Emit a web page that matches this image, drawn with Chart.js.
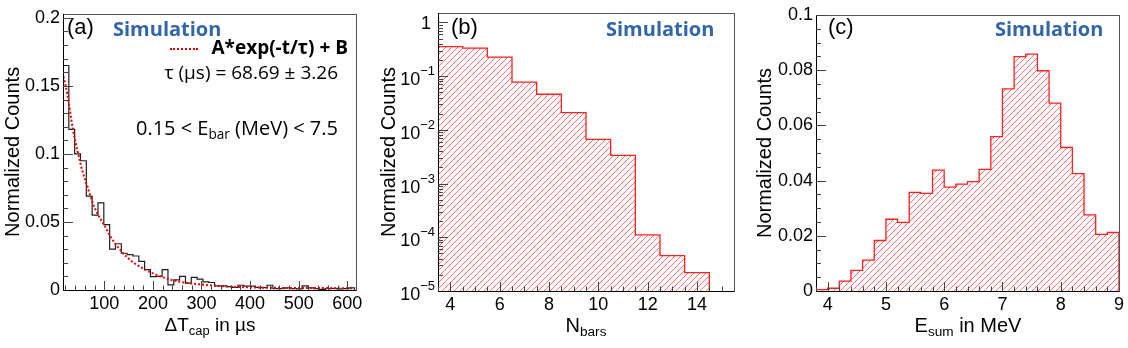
<!DOCTYPE html>
<html>
<head>
<meta charset="utf-8">
<script src="https://cdn.jsdelivr.net/npm/chart.js@4.4.1/dist/chart.umd.min.js"></script>
<style>
  body { margin: 0; width: 1128px; height: 348px; overflow: hidden; position: relative; background: #fff;
         font-family: "Liberation Sans", Arial, sans-serif; color: #000; }
  canvas { position: absolute; top: 0; width: 376px; height: 348px; }
  .t { position: absolute; white-space: nowrap; line-height: 1; z-index: 2; }
  .tag { font-size: 22px; top: 16px; }
  .sim { font-family: "Open Sans", sans-serif; font-weight: 700; font-size: 20px; color: #3366a6; top: 19px; }
  .xt { font-size: 20px; top: 315px; transform: translateX(-50%); }
  .note { font-family: "Open Sans", sans-serif; font-size: 19px; }
  sub { font-size: 0.68em; vertical-align: -0.3em; line-height: 0; }
</style>
</head>
<body>
<canvas id="capChart" width="376" height="348" style="left:0"></canvas>
<canvas id="nbarsChart" width="376" height="348" style="left:376px"></canvas>
<canvas id="esumChart" width="376" height="348" style="left:752px"></canvas>

<div class="t tag" style="left:67px">(a)</div>
<div class="t sim" style="left:113px">Simulation</div>
<div class="t" style="left:170px;top:48px;width:28px;border-top:2px dotted #e00000"></div>
<div class="t note" style="right:780px;top:38px;font-weight:700">A*exp(-t/τ) + B</div>
<div class="t note" style="right:790px;top:63px">τ (µs) = 68.69 ± 3.26</div>
<div class="t note" style="right:790px;top:118px;font-size:20px">0.15 &lt; E<sub>bar</sub> (MeV) &lt; 7.5</div>
<div class="t xt" style="left:210px;font-size:19px">ΔT<sub>cap</sub> in µs</div>

<div class="t tag" style="left:451px">(b)</div>
<div class="t sim" style="left:606px">Simulation</div>
<div class="t xt" style="left:586px">N<sub>bars</sub></div>

<div class="t tag" style="left:828px">(c)</div>
<div class="t sim" style="left:995px">Simulation</div>
<div class="t xt" style="left:968px">E<sub>sum</sub> in MeV</div>

<script>
"use strict"

// (a) capture time histogram, 12 µs bins starting at 15 µs
const capBinStart = 15;
const capBinWidth = 12;
const capCounts = [0.165, 0.118, 0.100, 0.095, 0.069, 0.055, 0.064, 0.048, 0.030, 0.034,
                   0.027, 0.026, 0.025, 0.021, 0.015, 0.0098, 0.010, 0.015, 0.0037, 0.0074,
                   0.010, 0.005, 0.0093, 0.008, 0.006, 0.0055, 0.003, 0.003, 0.0025, 0.002,
                   0.0035, 0.0028, 0.0028, 0.002, 0.0018, 0.0035, 0.001, 0.001, 0.0015, 0.001,
                   0.0008, 0.003, 0.0015, 0.001, 0.0005, 0.001, 0.0012, 0.0008, 0.001, 0.0015];
// fit curve
const fitT = [16, 24, 35, 45, 55, 66, 76, 87, 101, 115, 135, 156, 177, 205, 233, 270, 300, 350, 400, 450, 500, 550, 615];
const fitV = [0.157, 0.144, 0.119, 0.102, 0.0875, 0.0752, 0.0642, 0.0555, 0.047, 0.038, 0.0285, 0.0213, 0.0164, 0.0115,
              0.0079, 0.0052, 0.004, 0.0026, 0.0019, 0.0016, 0.0015, 0.0014, 0.0013];
const capXTicks = [100, 200, 300, 400, 500, 600];
const capYTicks = [0, 0.05, 0.1, 0.15, 0.2];

// (b) number of bars
const nbarsBins = [4, 5, 6, 7, 8, 9, 10, 11, 12, 13, 14];
const nbarsCounts = [0.356, 0.333, 0.226, 0.0773, 0.0461, 0.0209, 0.00667, 0.00336, 1.11e-4, 4.57e-5, 2.2e-5];
const nbarsXTicks = [4, 6, 8, 10, 12, 14];
const nbarsYTicks = [1e-5, 1e-4, 1e-3, 1e-2, 1e-1, 1];
const nbarsYExp = ["\u22125", "\u22124", "\u22123", "\u22122", "\u22121", ""];

// (c) summed energy, 0.2 MeV bins
const esumBinLow = [3.8, 4.0, 4.2, 4.4, 4.6, 4.8, 5.0, 5.2, 5.4, 5.6, 5.8, 6.0, 6.2,
                    6.4, 6.6, 6.8, 7.0, 7.2, 7.4, 7.6, 7.8, 8.0, 8.2, 8.4, 8.6, 8.8];
const esumBinWidth = 0.2;
const esumCounts = [0.0005, 0.001, 0.0036, 0.0075, 0.0112, 0.0183, 0.026, 0.0249, 0.0357, 0.0354, 0.0438, 0.0376, 0.0387,
                    0.0396, 0.0441, 0.0559, 0.0732, 0.0849, 0.0858, 0.0798, 0.0681, 0.052, 0.0425, 0.0276, 0.0205, 0.0212];
const esumXTicks = [4, 5, 6, 7, 8, 9];
const esumYTicks = [0, 0.02, 0.04, 0.06, 0.08, 0.1];


const FONT = '"Liberation Sans", Arial, sans-serif';
Chart.defaults.font.family = FONT;
Chart.defaults.color = "#000";

// histogram outline as stepped points: up from floor, across each bin, back down
function stepPoints(lowEdges, values, width, floor){
    const pts = [{ x: lowEdges[0], y: floor }];
    values.forEach((v, i) => pts.push({ x: lowEdges[i], y: v }));
    const end = lowEdges[lowEdges.length - 1] + width;
    pts.push({ x: end, y: values[values.length - 1] });
    pts.push({ x: end, y: floor });
    return pts;
}

function range(from, to, step){
    const out = [];
    for(let v = from; v <= to + step / 1000; v += step) out.push(+v.toFixed(6));
    return out;
}

// red "/" hatching inside the histogram outline of dataset 0
const hatchFill = {
    id: "hatchFill",
    beforeDatasetsDraw(chart){
        if(!chart.options.hatch) return;
        const { ctx, chartArea: a } = chart;
        const line = chart.getDatasetMeta(0).dataset;
        ctx.save();
        ctx.beginPath();
        ctx.rect(a.left, a.top, a.right - a.left, a.bottom - a.top);
        ctx.clip();
        ctx.beginPath();
        line.path(ctx);
        ctx.closePath();
        ctx.clip();
        ctx.strokeStyle = "rgba(255,70,70,0.85)";
        ctx.lineWidth = 0.9;
        ctx.beginPath();
        const h = a.bottom - a.top;
        for(let x0 = a.left - h; x0 < a.right; x0 += 6){
            ctx.moveTo(x0, a.bottom);
            ctx.lineTo(x0 + h, a.top);
        }
        ctx.stroke();
        ctx.restore();
    }
};

// ROOT style frame with ticks pointing into the plot
function rootAxes(spec){
    return {
        id: "rootAxes",
        afterDatasetsDraw(chart){
            const { ctx, chartArea: a, scales: { x, y } } = chart;
            ctx.save();
            ctx.lineWidth = 1;
            ctx.strokeStyle = "#555";
            ctx.strokeRect(Math.round(a.left) + 0.5, Math.round(a.top) + 0.5,
                           Math.round(a.right - a.left), Math.round(a.bottom - a.top));
            ctx.strokeStyle = "#000";
            ctx.beginPath();
            ctx.moveTo(Math.round(a.left) + 0.5, a.top);
            ctx.lineTo(Math.round(a.left) + 0.5, Math.round(a.bottom) + 0.5);
            ctx.lineTo(a.right, Math.round(a.bottom) + 0.5);
            ctx.stroke();

            ctx.strokeStyle = "#444";
            ctx.beginPath();
            const xt = (vals, len) => vals.forEach(v => {
                const p = Math.round(x.getPixelForValue(v)) + 0.5;
                if(p < a.left || p > a.right) return;
                ctx.moveTo(p, a.bottom); ctx.lineTo(p, a.bottom - len);
            });
            const yt = (vals, len) => vals.forEach(v => {
                const p = Math.round(y.getPixelForValue(v)) + 0.5;
                if(p < a.top - 1 || p > a.bottom) return;
                ctx.moveTo(a.left, p); ctx.lineTo(a.left + len, p);
            });
            xt(spec.xMinor, 4.5);
            xt(spec.xTicks, 9);
            yt(spec.yMinor, 5);
            yt(spec.yTicks, 10);
            ctx.stroke();

            // powers of ten with a raised exponent
            if(spec.yExp){
                ctx.fillStyle = "#000";
                ctx.textBaseline = "alphabetic";
                ctx.textAlign = "right";
                spec.yTicks.forEach((v, i) => {
                    const p = y.getPixelForValue(v);
                    const r = a.left - 3;
                    const e = spec.yExp[i];
                    if(!e){
                        ctx.font = "18px " + FONT;
                        ctx.fillText("1", r - 4, p + 6.5);
                        return;
                    }
                    ctx.font = "13px " + FONT;
                    const ew = ctx.measureText(e).width;
                    ctx.fillText(e, r, p - 1);
                    ctx.font = "18px " + FONT;
                    ctx.fillText("10", r - ew, p + 9);
                });
            }
            ctx.restore();
        }
    };
}

function panel(id, spec){
    return new Chart(document.getElementById(id), {
        type: "line",
        data: { datasets: spec.datasets },
        options: {
            responsive: false,
            animation: false,
            devicePixelRatio: 1,
            hatch: !!spec.hatch,
            layout: { padding: spec.pad },
            plugins: { legend: { display: false }, tooltip: { enabled: false } },
            elements: { point: { radius: 0 } },
            scales: {
                x: {
                    type: "linear", min: spec.xMin, max: spec.xMax,
                    grid: { display: false, drawTicks: false },
                    border: { display: false },
                    ticks: { padding: 3, maxRotation: 0, autoSkip: false, font: { size: 18 } },
                    afterBuildTicks: s => { s.ticks = spec.xTicks.map(v => ({ value: v })); },
                    afterFit: s => { s.height = spec.xH; }
                },
                y: {
                    type: spec.yType, min: spec.yMin, max: spec.yMax,
                    grid: { display: false, drawTicks: false },
                    border: { display: false },
                    ticks: { padding: 3, autoSkip: false, font: { size: 18 }, display: !spec.yExp, callback: spec.yLabel },
                    title: { display: true, text: "Normalized Counts", font: { size: 20 }, padding: { top: 1, bottom: 0 } },
                    afterBuildTicks: s => { s.ticks = spec.yTicks.map(v => ({ value: v })); },
                    afterFit: s => { s.width = spec.yW; }
                }
            }
        },
        plugins: [hatchFill, rootAxes(spec)]
    });
}

const plainLabel = v => String(+(+v).toFixed(4));

panel("capChart", {
    pad: { left: 0, top: 13, right: 20, bottom: 0 },
    yW: 63, xH: 58,
    xMin: 15, xMax: 618, xTicks: capXTicks, xMinor: range(20, 600, 20),
    yType: "linear", yMin: 0, yMax: 0.203, yTicks: capYTicks, yMinor: range(0, 0.2, 0.01),
    yLabel: plainLabel,
    datasets: [
        { data: fitT.map((t, i) => ({ x: t, y: fitV[i] })), borderColor: "#ee0000", borderWidth: 2,
          borderDash: [2, 2], cubicInterpolationMode: "monotone", fill: false },
        { data: stepPoints(capCounts.map((_, i) => capBinStart + i * capBinWidth), capCounts, capBinWidth, 0),
          stepped: "before", borderColor: "#1e1e1e", borderWidth: 1.2, fill: false }
    ]
});

panel("nbarsChart", {
    pad: { left: 0, top: 13, right: 18, bottom: 0 },
    yW: 62, xH: 57, hatch: true,
    xMin: 3.5, xMax: 15.5, xTicks: nbarsXTicks, xMinor: range(3.5, 15.5, 0.5),
    yType: "logarithmic", yMin: 1e-5, yMax: 1.5, yTicks: nbarsYTicks, yExp: nbarsYExp,
    yMinor: nbarsYTicks.slice(0, -1).flatMap(d => [2, 3, 4, 5, 6, 7, 8, 9].map(m => m * d)),
    yLabel: () => "",
    datasets: [
        { data: stepPoints(nbarsBins.map(n => n - 0.5), nbarsCounts, 1, 1e-5),
          stepped: "before", borderColor: "#ff2020", borderWidth: 1.3, fill: false }
    ]
});

panel("esumChart", {
    pad: { left: 0, top: 15, right: 9, bottom: 0 },
    yW: 64, xH: 57, hatch: true,
    xMin: 3.8, xMax: 9, xTicks: esumXTicks, xMinor: range(3.8, 9, 0.2),
    yType: "linear", yMin: 0, yMax: 0.1, yTicks: esumYTicks, yMinor: range(0, 0.1, 0.005),
    yLabel: plainLabel,
    datasets: [
        { data: stepPoints(esumBinLow, esumCounts, esumBinWidth, 0),
          stepped: "before", borderColor: "#ff2020", borderWidth: 1.3, fill: false }
    ]
});
</script>
</body>
</html>
